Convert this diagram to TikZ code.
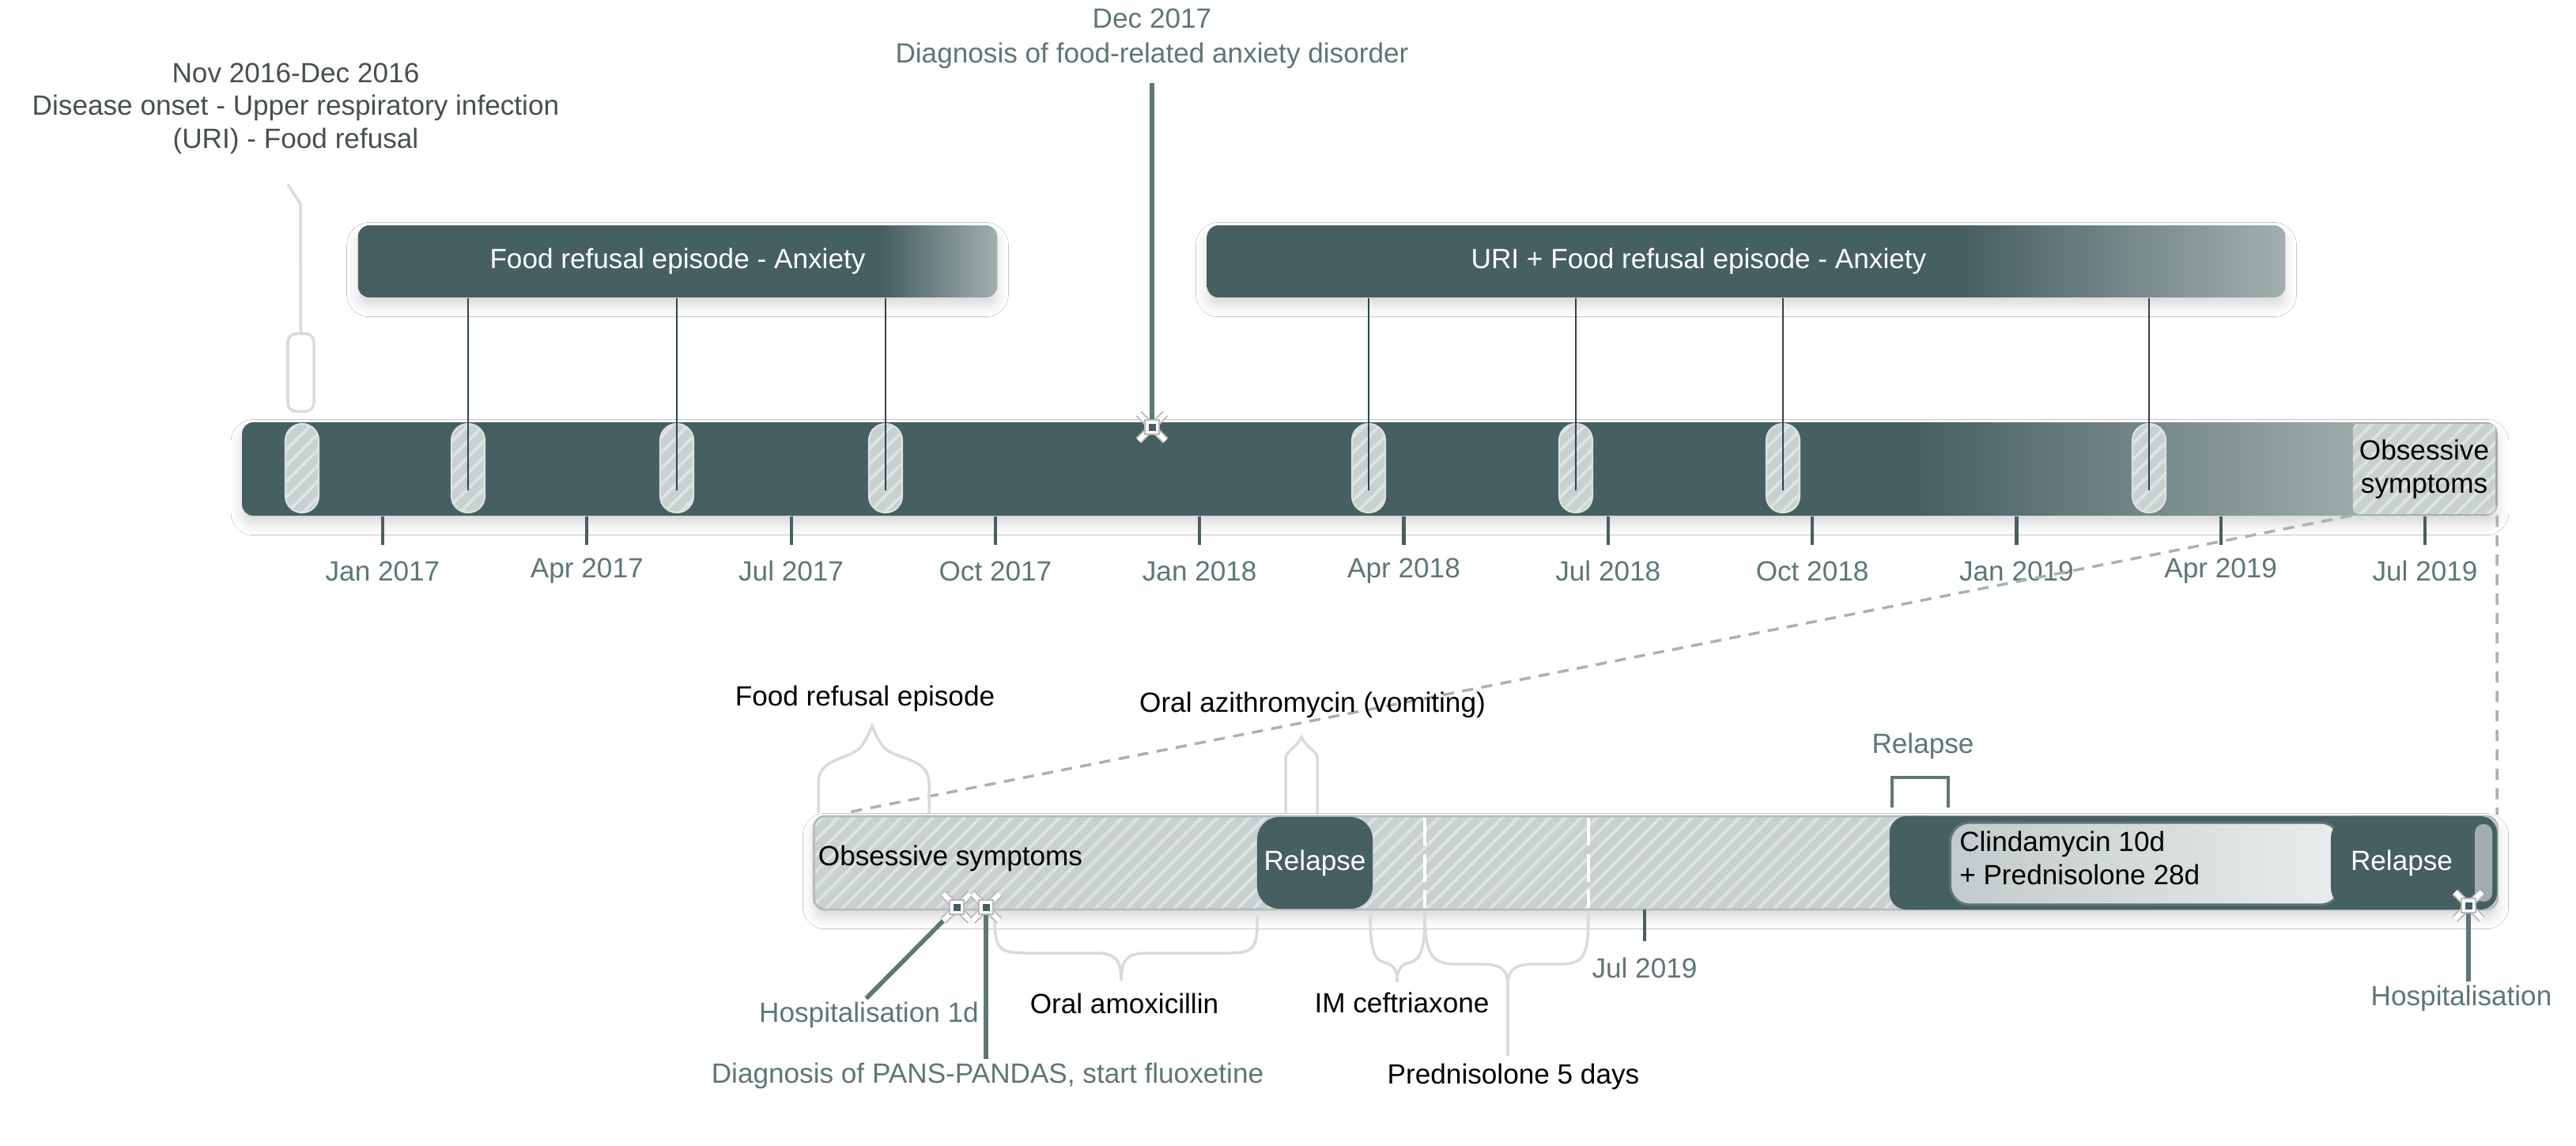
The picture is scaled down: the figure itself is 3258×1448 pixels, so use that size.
\documentclass[tikz,border=0pt]{standalone}
\usepackage{fontspec}
\setmainfont{Liberation Sans}
\usetikzlibrary{patterns.meta,shadows.blur}
\definecolor{tdark}{HTML}{465F61}
\definecolor{tline}{HTML}{2E4547}
\definecolor{tlabel}{HTML}{5E7676}
\definecolor{tlight}{HTML}{A0ACAC}
\definecolor{tlightb}{HTML}{A3AFAF}
\definecolor{hatchbg}{HTML}{C8D0D0}
\definecolor{hatchln}{HTML}{DDE3E3}
\definecolor{faintc}{HTML}{D6DCDC}
\definecolor{dashc}{HTML}{A9B2B2}
\definecolor{novc}{HTML}{474F50}
\definecolor{clA}{HTML}{C2CBCB}
\definecolor{clB}{HTML}{E8ECEC}
\definecolor{lbord}{HTML}{B3BDBD}
\definecolor{cbord}{HTML}{5F7375}
\definecolor{rendc}{HTML}{A2ADAD}
\pgfdeclarehorizontalshading{barshade}{100bp}{color(0bp)=(tdark); color(25bp)=(tdark); color(62bp)=(tdark); color(72bp)=(tlight); color(100bp)=(tlight)}
\pgfdeclarehorizontalshading{boxoneshade}{100bp}{color(0bp)=(tdark); color(25bp)=(tdark); color(66bp)=(tdark); color(75bp)=(tlightb); color(100bp)=(tlightb)}
\pgfdeclarehorizontalshading{boxtwoshade}{100bp}{color(0bp)=(tdark); color(25bp)=(tdark); color(60bp)=(tdark); color(75bp)=(tlightb); color(100bp)=(tlightb)}
\pgfdeclarehorizontalshading{clinshade}{100bp}{color(0bp)=(clA); color(25bp)=(clA); color(75bp)=(clB); color(100bp)=(clB)}
\tikzset{
  txt/.style={font=\fontsize{10}{12}\selectfont, inner sep=1pt},
  lbl/.style={txt, text=tlabel},
  blk/.style={txt, text=black},
  sh/.style={blur shadow={shadow xshift=0pt, shadow yshift=-3pt, shadow blur radius=4pt, shadow opacity=15}},
  topbox/.style={sh, shade, rounded corners=4pt, inner sep=0pt, minimum height=0.91cm, text=white, font=\fontsize{10}{12}\selectfont},
  hatched/.style={preaction={fill=hatchbg}, pattern={Lines[angle=45,distance=4pt,line width=1.1pt]}, pattern color=hatchln},
  capsule/.style={hatched, draw=hatchln, line width=0.6pt, minimum width=0.42cm, minimum height=1.12cm, rounded corners=5.9pt, inner sep=0pt},
  conn/.style={draw=tline, line width=0.8pt},
  tealconn/.style={draw=tlabel, line width=1.6pt},
  faint/.style={draw=faintc, line width=1pt},
  zoomdash/.style={draw=dashc, line width=1pt, dash pattern=on 4pt off 3pt},
  tickln/.style={draw=tlabel!80!black, line width=1.2pt},
  darkbox/.style={fill=tdark, rounded corners=8pt, inner sep=0pt, text=white, font=\fontsize{10}{12}\selectfont},
  whitedash/.style={draw=white, line width=1.3pt, dash pattern=on 10pt off 3pt},
  bracketln/.style={draw=tlabel, line width=1.3pt},
  xmk/.pic={
    \draw[gray!55, line width=2.8pt] (-17,-17) -- (17,17) (-17,17) -- (17,-17);
    \draw[white, line width=1.7pt] (-17,-17) -- (17,17) (-17,17) -- (17,-17);
    \fill[gray!55] (-10,-10) rectangle (10,10);
    \fill[white] (-8,-8) rectangle (8,8);
    \fill[tdark] (-4.5,-4.5) rectangle (4.5,4.5);
  }
}
\begin{document}
\begin{tikzpicture}[x=0.01cm, y=-0.01cm]
\useasboundingbox (0,0) rectangle (3258,1448);
\fill[white] (0,0) rectangle (3258,1448);

% ---------- top labels ----------
\node[txt, text=novc, align=center, font=\fontsize{10}{11.8}\selectfont] (nov) at (374,137) {Nov 2016-Dec 2016\\Disease onset - Upper respiratory infection\\(URI) - Food refusal};
\node[lbl, align=center, font=\fontsize{10}{12.5}\selectfont] (dec) at (1457,49) {Dec 2017\\Diagnosis of food-related anxiety disorder};

% ---------- main bar ----------
\node[sh, shading=barshade, shade, rounded corners=4pt, minimum width=28.51cm, minimum height=1.18cm, inner sep=0pt] (bar) at (1732.5,593) {};
\node[hatched, rounded corners=2pt, minimum width=1.80cm, minimum height=1.14cm, inner sep=0pt, blk, align=center] (obs) at (3066,593) {Obsessive\\symptoms};

% capsules
\node[capsule] (c0) at (382,592) {};
\node[capsule] (c1) at (592,592) {};
\node[capsule] (c2) at (856,592) {};
\node[capsule] (c3) at (1120,592) {};
\node[capsule] (c4) at (1731,592) {};
\node[capsule] (c5) at (1993,592) {};
\node[capsule] (c6) at (2255,592) {};
\node[capsule] (c7) at (2718,592) {};

% top boxes
\node[topbox, shading=boxoneshade, minimum width=8.08cm] (b1) at (857,330.5) {Food refusal episode - Anxiety};
\node[topbox, shading=boxtwoshade, minimum width=13.63cm] (b2) at (2208.5,330.5) {\hspace*{-1.2cm}URI + Food refusal episode - Anxiety};

\foreach \c in {c1,c2,c3} \draw[conn, shorten >=-8pt] (b1.south -| \c) -- (\c.center);
\foreach \c in {c4,c5,c6,c7} \draw[conn, shorten >=-8pt] (b2.south -| \c) -- (\c.center);

% faint onset connector
\node[draw=faintc, line width=1pt, rounded corners=3pt, minimum width=0.33cm, minimum height=0.98cm, inner sep=0pt] (onset) at (380.5,471) {};
\draw[faint] (364,233) -- (380,258) -- (onset.north);

% Dec 2017 connector
\coordinate (m1) at (1457,540);
\draw[tealconn] ([yshift=-4pt]dec.south) -- (m1);
\pic at (m1) {xmk};

% ticks and month labels
\foreach \i/\t in {0/Jan 2017,1/Apr 2017,2/Jul 2017,3/Oct 2017,4/Jan 2018,5/Apr 2018,6/Jul 2018,7/Oct 2018,8/Jan 2019,9/Apr 2019,10/Jul 2019} {
  \node[lbl] (tk\i) at ({484+258.3*\i},722) {\t};
  \draw[tickln] (tk\i.north |- bar.south) -- ++(0,36);
}

% ---------- zoom lines ----------
\draw[zoomdash] (obs.south west) -- (1073,1027);
\draw[zoomdash] (obs.south east) -- (3158,1030);

% ---------- lower bar ----------
\draw[faint] (1035,1028) -- (1035,990) .. controls (1035,955) and (1080,962) .. (1092,940) .. controls (1097,932) and (1100,925) .. (1103,918) .. controls (1106,925) and (1109,932) .. (1114,940) .. controls (1126,962) and (1175,955) .. (1175,990) -- (1175,1028);
\draw[faint] (1626,1028) -- (1626,958) .. controls (1626,950) and (1640,945) .. (1646,932) .. controls (1652,945) and (1666,950) .. (1666,958) -- (1666,1028);

\node[sh, hatched, draw=lbord, line width=0.8pt, rounded corners=4pt, minimum width=21.28cm, minimum height=1.18cm, inner sep=0pt] (lbar) at (2094,1091) {};
\node[darkbox, minimum width=1.46cm, minimum height=1.16cm] (rel1) at (1663,1091) {Relapse};
\node[darkbox, rounded corners=6pt, minimum width=7.68cm, minimum height=1.18cm] (rblock) at (2774,1091) {};
\node[darkbox, minimum width=0.76cm, minimum height=1.18cm] (rel2) at (2429,1091) {};
\node[shading=clinshade, shade, draw=cbord, line width=0.9pt, rounded corners=7pt, minimum width=4.93cm, minimum height=1.04cm, inner sep=0pt] (clin) at (2713,1092) {};
\node[fill=rendc, rounded corners=3pt, minimum width=0.22cm, minimum height=0.98cm, inner sep=0pt] (rend) at (3141,1091) {};
\node[darkbox, minimum width=1.79cm, minimum height=1.18cm] (rel3) at (3037.5,1091) {Relapse};
\node[blk, anchor=west, align=left] (clintxt) at (2474,1085) {Clindamycin 10d\\+ Prednisolone 28d};
\node[blk] (obs2) at (1202,1085) {Obsessive symptoms};

\draw[whitedash] (1802,1034) -- (1802,1148);
\draw[whitedash] (2009,1034) -- (2009,1148);

% relapse bracket
\node[lbl] (rellbl) at (2432,943) {Relapse};
\draw[bracketln] (2393,1021) -- (2393,983) -- (2464,983) -- (2464,1021);

% lower tick
\draw[tickln] (2080,1150) -- (2080,1190);
\node[lbl] (jul) at (2080,1224) {Jul 2019};

% braces
\draw[faint] (1258,1158) .. controls (1258,1200) and (1262,1205) .. (1300,1205) -- (1385,1205) .. controls (1412,1205) and (1418,1215) .. (1418,1240) .. controls (1418,1215) and (1424,1205) .. (1451,1205) -- (1550,1205) .. controls (1588,1205) and (1590,1200) .. (1590,1158);
\draw[faint] (1733,1155) .. controls (1733,1210) and (1740,1215) .. (1755,1218) .. controls (1765,1222) and (1767,1230) .. (1767,1242) .. controls (1767,1230) and (1769,1222) .. (1779,1218) .. controls (1794,1215) and (1802,1210) .. (1802,1155);
\draw[faint] (1802,1155) .. controls (1802,1205) and (1810,1219) .. (1840,1219) -- (1875,1219) .. controls (1900,1219) and (1907,1228) .. (1907,1245) .. controls (1907,1228) and (1914,1219) .. (1939,1219) -- (1975,1219) .. controls (2005,1219) and (2009,1205) .. (2009,1155);
\draw[faint] (1907,1245) -- (1907,1335);

% labels above / below lower bar
\node[blk] (fre) at (1094,883) {Food refusal episode};
\node[blk] (azi) at (1660,891) {Oral azithromycin (vomiting)};
\node[blk] (amox) at (1422,1269) {Oral amoxicillin};
\node[blk] (ceft) at (1773,1268) {IM ceftriaxone};
\node[blk] (pred) at (1914,1361) {Prednisolone 5 days};
\node[lbl] (hosp1) at (1099,1283) {Hospitalisation 1d};
\node[lbl] (diag) at (1249,1360) {Diagnosis of PANS-PANDAS, start fluoxetine};
\node[lbl] (hosp2) at (3113,1262) {Hospitalisation};

% hospitalisation markers and connectors
\coordinate (m2) at (1210,1147);
\coordinate (m3) at (1247,1147);
\coordinate (m4) at (3122,1145);
\draw[tealconn] (m2) -- ([xshift=-1pt]hosp1.north);
\draw[tealconn] (m3) -- (m3 |- diag.north);
\draw[tealconn] (m4) -- (m4 |- hosp2.north);
\pic at (m2) {xmk};
\pic at (m3) {xmk};
\pic at (m4) {xmk};
\end{tikzpicture}
\end{document}
